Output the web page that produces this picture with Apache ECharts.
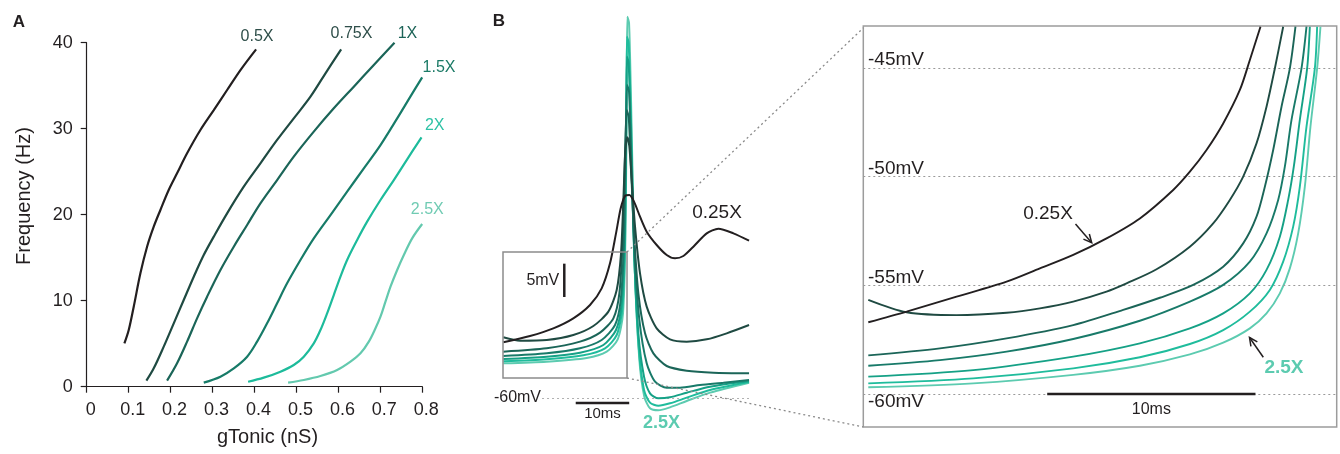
<!DOCTYPE html>
<html><head><meta charset="utf-8">
<script src="https://cdn.jsdelivr.net/npm/echarts@6/dist/echarts.min.js"></script>
<style>html,body{margin:0;padding:0;background:#fff}#c{width:1340px;height:454px}</style>
</head><body><div id="c"></div>
<script>
// ---------- Panel A data: gTonic (nS) vs Frequency (Hz) ----------
const xTickLabelsA = ['0','0.1','0.2','0.3','0.4','0.5','0.6','0.7','0.8'];
const yTickLabelsA = ['0','10','20','30','40'];
const namesA = ['0.5X','0.75X','1X','1.5X','2X','2.5X'];
const fi_05X = [[0.0898,5.04],[0.1002,6.59],[0.1121,9.30],[0.1280,13.18],[0.1439,16.28],[0.1598,18.61],[0.1757,20.55],[0.1955,22.87],[0.2154,24.81],[0.2393,27.14],[0.2710,29.85],[0.3029,32.17],[0.3347,34.50],[0.3665,36.82],[0.4038,39.23]];
const fi_075X = [[0.1423,0.70],[0.1598,2.14],[0.1836,4.66],[0.2075,7.37],[0.2313,10.08],[0.2552,12.79],[0.2790,15.31],[0.3029,17.45],[0.3347,20.16],[0.3744,23.26],[0.4141,25.97],[0.4539,28.69],[0.4936,31.20],[0.5334,33.72],[0.5692,36.44],[0.6065,39.23]];
const fi_1X = [[0.1916,0.70],[0.2154,2.72],[0.2393,5.24],[0.2631,7.95],[0.2870,10.47],[0.3188,13.57],[0.3506,16.28],[0.3824,18.80],[0.4141,21.32],[0.4539,24.03],[0.4936,26.75],[0.5413,29.66],[0.5890,32.37],[0.6367,34.89],[0.6844,37.41],[0.7337,40.00]];
const fi_15X = [[0.2790,0.47],[0.3188,1.17],[0.3506,2.13],[0.3824,3.49],[0.4062,5.24],[0.4300,7.37],[0.4539,9.70],[0.4777,12.02],[0.5095,14.73],[0.5413,17.25],[0.5811,19.96],[0.6208,22.68],[0.6606,25.39],[0.7003,28.10],[0.7401,31.20],[0.7719,33.76],[0.7997,35.97]];
const fi_2X = [[0.3847,0.58],[0.4221,1.05],[0.4618,1.75],[0.4936,2.52],[0.5175,3.49],[0.5413,5.04],[0.5572,6.59],[0.5731,8.53],[0.5890,10.66],[0.6049,12.79],[0.6208,14.73],[0.6447,17.06],[0.6685,19.19],[0.7003,21.71],[0.7321,24.03],[0.7639,26.44],[0.7981,29.00]];
const fi_25X = [[0.4801,0.47],[0.5175,0.78],[0.5572,1.24],[0.5970,1.94],[0.6288,2.91],[0.6526,3.88],[0.6725,5.24],[0.6884,6.79],[0.7003,8.14],[0.7122,9.89],[0.7242,11.63],[0.7401,13.57],[0.7560,15.31],[0.7758,17.25],[0.7997,18.92]];

// ---------- Panel B (left): full spike traces, time (ms) vs Vm (mV) ----------
const namesB = ['0.25X','0.5X','1X','1.5X','2X','2.25X','2.5X'];
const spike_1 = [[0.06,-51.65],[5.05,-50.70],[9.41,-49.55],[13.15,-48.05],[16.27,-46.05],[18.45,-43.55],[20.01,-39.80],[21.13,-35.30],[22.01,-31.55],[22.82,-29.70],[23.63,-29.55],[24.50,-30.55],[25.62,-32.80],[26.87,-35.05],[28.74,-37.05],[30.61,-38.55],[32.17,-39.05],[33.73,-38.70],[35.60,-37.30],[38.09,-35.30],[40.27,-34.60],[43.08,-35.30],[46.01,-36.40]];
const spike_2 = [[0.06,-50.90],[3.18,-51.40],[8.17,-51.30],[13.15,-50.55],[16.90,-49.20],[19.70,-47.05],[21.26,-43.80],[22.07,-38.30],[22.51,-30.30],[22.88,-22.80],[23.26,-20.90],[23.63,-22.30],[24.06,-27.30],[24.69,-34.30],[25.62,-41.30],[26.87,-46.30],[28.74,-49.55],[31.23,-51.20],[34.35,-51.55],[38.09,-51.20],[41.83,-50.30],[46.01,-49.05]];
const spike_3 = [[0.06,-53.05],[8.17,-52.55],[14.40,-51.55],[18.14,-50.20],[20.64,-48.05],[21.76,-44.30],[22.38,-36.30],[22.76,-25.30],[23.13,-16.80],[23.50,-17.80],[23.88,-24.30],[24.50,-35.30],[25.31,-44.30],[26.56,-50.30],[28.12,-53.30],[30.61,-55.20],[34.35,-55.90],[39.34,-56.20],[46.01,-56.30]];
const spike_4 = [[0.06,-53.70],[8.17,-53.30],[14.40,-52.55],[18.45,-51.30],[20.95,-49.05],[22.01,-45.30],[22.63,-36.30],[22.94,-22.80],[23.19,-13.05],[23.57,-14.05],[23.94,-22.80],[24.56,-37.80],[25.50,-48.30],[26.87,-54.80],[28.43,-57.55],[30.61,-58.45],[33.10,-58.45],[36.84,-58.05],[41.21,-57.70],[46.01,-57.30]];
const spike_5 = [[0.06,-54.15],[8.17,-53.80],[14.40,-53.20],[18.77,-52.05],[21.13,-49.80],[22.19,-45.80],[22.76,-36.30],[23.01,-20.30],[23.19,-8.80],[23.50,-9.80],[23.88,-19.30],[24.50,-37.80],[25.31,-50.30],[26.37,-56.80],[27.49,-59.30],[29.05,-60.05],[31.23,-59.90],[34.35,-59.20],[38.72,-58.30],[46.01,-57.45]];
const spike_6 = [[0.06,-54.50],[8.17,-54.20],[15.02,-53.60],[19.08,-52.55],[21.26,-50.55],[22.32,-46.55],[22.82,-36.30],[23.07,-17.80],[23.19,-5.80],[23.50,-6.80],[23.88,-16.80],[24.56,-38.80],[25.37,-52.30],[26.37,-58.80],[27.49,-60.70],[29.05,-61.15],[31.23,-60.80],[34.35,-59.95],[38.72,-58.80],[46.01,-57.60]];
const spike_7 = [[0.06,-54.80],[8.17,-54.55],[15.65,-54.00],[19.39,-53.05],[21.45,-51.20],[22.44,-47.30],[22.88,-36.30],[23.13,-15.30],[23.25,-2.80],[23.57,-3.80],[23.94,-15.30],[24.63,-40.30],[25.50,-54.30],[26.43,-59.80],[27.49,-61.55],[29.05,-61.85],[31.23,-61.40],[34.35,-60.45],[38.72,-59.20],[46.01,-57.70]];

// ---------- Panel B (right): magnified pre-spike depolarisation ----------
const ramp_1 = [[0.24,-56.70],[2.08,-56.21],[4.48,-55.52],[6.88,-54.83],[8.48,-54.22],[10.08,-53.60],[11.68,-52.84],[13.28,-51.92],[14.88,-50.61],[15.68,-49.77],[16.48,-48.77],[17.28,-47.55],[18.08,-46.01],[18.56,-44.63],[19.07,-43.10]];
const ramp_2 = [[0.24,-55.67],[2.08,-56.24],[4.48,-56.37],[6.88,-56.26],[8.48,-56.06],[10.08,-55.75],[11.68,-55.29],[12.64,-54.91],[14.08,-54.26],[15.68,-53.22],[16.80,-52.15],[17.60,-51.07],[18.24,-50.00],[18.88,-48.47],[19.36,-46.78],[19.76,-45.02],[20.16,-43.10]];
const ramp_3 = [[0.24,-58.22],[3.68,-57.90],[6.88,-57.44],[10.08,-56.83],[12.48,-56.13],[14.24,-55.57],[15.84,-54.98],[17.28,-54.14],[18.24,-53.07],[18.88,-51.84],[19.28,-50.46],[19.68,-48.77],[20.08,-46.78],[20.48,-45.02],[20.75,-43.10]];
const ramp_4 = [[0.24,-58.70],[3.68,-58.44],[6.88,-58.05],[10.08,-57.47],[13.28,-56.63],[15.68,-55.75],[17.28,-54.98],[18.56,-53.91],[19.36,-52.61],[19.92,-51.07],[20.24,-49.54],[20.56,-47.39],[21.04,-45.02],[21.28,-43.10]];
const ramp_5 = [[0.24,-59.20],[5.28,-58.90],[10.08,-58.28],[13.28,-57.67],[15.68,-56.98],[17.28,-56.29],[18.56,-55.37],[19.36,-54.29],[20.00,-52.76],[20.40,-51.07],[20.67,-49.54],[20.96,-47.39],[21.31,-45.02],[21.44,-43.10]];
const ramp_6 = [[0.24,-59.51],[5.28,-59.28],[10.08,-58.82],[13.28,-58.31],[15.68,-57.70],[17.28,-57.06],[18.56,-56.21],[19.52,-55.21],[20.16,-53.91],[20.64,-52.30],[20.96,-50.46],[21.28,-47.70],[21.68,-45.02],[21.79,-43.10]];
const ramp_7 = [[0.24,-59.69],[5.28,-59.51],[10.08,-59.12],[13.28,-58.70],[15.68,-58.18],[17.28,-57.64],[18.56,-56.98],[19.36,-56.29],[20.00,-55.37],[20.48,-54.22],[20.88,-52.61],[21.20,-50.46],[21.47,-47.70],[21.79,-45.02],[21.95,-43.10]];
const refLevelsR = [-45, -50, -55, -60];
const refLabelsR = ['-45mV', '-50mV', '-55mV', '-60mV'];

// ---------- styling ----------
const FONT = 'Liberation Sans, Arial, Helvetica, sans-serif';
const INK = '#231f20';
const colorsA = ['#231f20','#1f4a42','#1b6558','#177b68','#1dbb9b','#63c9ae'];
const labelColorsA = ['#2f4f4a','#2f4f4a','#1d6458','#1b7a66','#2dc2a5','#70cbb3'];
const colorsB = ['#231f20','#1f4a42','#1b6558','#187a69','#15a186','#1fbc9c','#5ccbb0'];

const dataA = [fi_05X, fi_075X, fi_1X, fi_15X, fi_2X, fi_25X];
const dataBL = [spike_1, spike_2, spike_3, spike_4, spike_5, spike_6, spike_7];
const dataBR = [ramp_1, ramp_2, ramp_3, ramp_4, ramp_5, ramp_6, ramp_7];

const series = [];
dataA.forEach((d, i) => series.push({
  name: namesA[i], type: 'line', xAxisIndex: 0, yAxisIndex: 0, data: d,
  showSymbol: false, smooth: 0.35, lineStyle: {color: colorsA[i], width: 2.2}, silent: true
}));
dataBL.forEach((d, i) => series.push({
  name: 'L' + namesB[i], type: 'line', xAxisIndex: 1, yAxisIndex: 1, data: d,
  showSymbol: false, smooth: 0.25, clip: false, lineStyle: {color: colorsB[i], width: 2}, silent: true,
  z: 10 - i
}));
dataBR.forEach((d, i) => series.push({
  name: 'R' + namesB[i], type: 'line', xAxisIndex: 2, yAxisIndex: 2, data: d,
  showSymbol: false, smooth: 0.3, lineStyle: {color: colorsB[i], width: 1.9}, silent: true,
  z: 10 - i
}));
// reference dotted lines (right panel)
series[dataA.length + dataBL.length].markLine = {
  silent: true, symbol: 'none', animation: false,
  lineStyle: {color: '#9a9a9a', type: [2, 3], width: 1},
  label: {show: false},
  data: refLevelsR.map(v => ({yAxis: v}))
};
// -60mV dotted line (left panel)
series[dataA.length].markLine = {
  silent: true, symbol: 'none', animation: false,
  lineStyle: {color: '#b0b0b0', type: [2, 3], width: 1},
  label: {show: false},
  data: [[{coord: [7.3, -60]}, {coord: [46, -60]}]]
};

const option = {
  animation: false,
  backgroundColor: '#fff',
  textStyle: {fontFamily: FONT},
  grid: [
    {left: 86.7, top: 42.7, width: 335.6, height: 344},
    {left: 503, top: 11.33, width: 246, height: 400},
    {left: 863.3, top: 26, width: 473.4, height: 401, show: true, borderColor: '#9c9c9c', borderWidth: 1.5, backgroundColor: 'transparent'}
  ],
  xAxis: [
    {gridIndex: 0, type: 'value', min: 0, max: 0.8, interval: 0.1,
     axisLine: {lineStyle: {color: INK, width: 1.2}}, axisTick: {length: 6, lineStyle: {color: INK, width: 1.2}},
     splitLine: {show: false},
     axisLabel: {color: INK, fontSize: 18, fontFamily: FONT, margin: 14, padding: [0, 0, 0, 8],
       formatter: (v) => xTickLabelsA[Math.round(v * 10)]}},
    {gridIndex: 1, type: 'value', min: 0, max: 46, show: false},
    {gridIndex: 2, type: 'value', min: 0, max: 22.73, show: false}
  ],
  yAxis: [
    {gridIndex: 0, type: 'value', min: 0, max: 40, interval: 10,
     axisLine: {show: true, lineStyle: {color: INK, width: 1.2}}, axisTick: {show: true, length: 6, lineStyle: {color: INK, width: 1.2}},
     splitLine: {show: false},
     axisLabel: {color: INK, fontSize: 18, fontFamily: FONT, margin: 14,
       formatter: (v) => yTickLabelsA[Math.round(v / 10)]}},
    {gridIndex: 1, type: 'value', min: -62, max: -2, show: false},
    {gridIndex: 2, type: 'value', min: -61.518, max: -43.067, show: false}
  ],
  series: series
};

const chart = echarts.init(document.getElementById('c'), null, {renderer: 'canvas'});
chart.setOption(option);

const P = (g, x, y) => chart.convertToPixel({gridIndex: g}, [x, y]);
const txt = (x, y, text, o) => Object.assign({type: 'text', x: x, y: y, silent: true, z: 100,
  style: Object.assign({text: text, fontFamily: FONT, fontSize: 16, fill: INK, align: 'center', verticalAlign: 'middle'}, (o && o.style) || {})},
  o && o.rotation !== undefined ? {rotation: o.rotation} : {});
function arrow(x1, y1, x2, y2, color) {
  const a = Math.atan2(y2 - y1, x2 - x1), L = 9, w = 0.45;
  return [
    {type: 'line', silent: true, z: 100, shape: {x1: x1, y1: y1, x2: x2, y2: y2}, style: {stroke: color, lineWidth: 1.5}},
    {type: 'polyline', silent: true, z: 100, shape: {points: [[x2 - L * Math.cos(a - w), y2 - L * Math.sin(a - w)], [x2, y2], [x2 - L * Math.cos(a + w), y2 - L * Math.sin(a + w)]]},
     style: {stroke: color, fill: null, lineWidth: 1.5}}
  ];
}

const g = [];
// panel letters
g.push(txt(19, 22, 'A', {style: {fontWeight: 'bold', fontSize: 17}}));
g.push(txt(499, 21, 'B', {style: {fontWeight: 'bold', fontSize: 17}}));
// axis names, panel A
g.push(txt(24, 196, 'Frequency (Hz)', {rotation: Math.PI / 2, style: {fontSize: 20}}));
g.push(txt(267.5, 437, 'gTonic (nS)', {style: {fontSize: 20}}));
// curve labels, panel A
const labelPosA = [[257, 37], [351.5, 34], [407.5, 34], [439, 68], [434.7, 126], [427.3, 209.5]];
namesA.forEach((n, i) => g.push(txt(labelPosA[i][0], labelPosA[i][1], n, {style: {fontSize: 16, fill: labelColorsA[i]}})));

// left panel: inset box and connecting lines
const bTL = P(1, 0, -38.1), bBR = P(1, 23.19, -57.0);
g.push({type: 'rect', silent: true, z: 50, shape: {x: bTL[0], y: bTL[1], width: bBR[0] - bTL[0], height: bBR[1] - bTL[1]},
  style: {stroke: '#8c8c8c', fill: null, lineWidth: 1.5}});
const rTL = P(2, 0, -43.067), rBL = P(2, 0, -61.518);
g.push({type: 'line', silent: true, z: 40, shape: {x1: bBR[0], y1: bTL[1], x2: rTL[0], y2: rTL[1] + 2}, style: {stroke: '#8a8a8a', lineWidth: 1.3, lineDash: [2, 3]}});
g.push({type: 'line', silent: true, z: 40, shape: {x1: bBR[0], y1: bBR[1], x2: rBL[0], y2: rBL[1]}, style: {stroke: '#8a8a8a', lineWidth: 1.3, lineDash: [2, 3]}});
// left panel: -60mV label
const l60 = P(1, 7.3, -60);
g.push(txt(l60[0] - 1, l60[1], '-60mV', {style: {align: 'right', fontSize: 16}}));
// 5 mV scale bar
const s5a = P(1, 11.46, -44.85), s5b = P(1, 11.46, -39.85);
g.push({type: 'line', silent: true, z: 60, shape: {x1: s5a[0], y1: s5a[1], x2: s5b[0], y2: s5b[1]}, style: {stroke: INK, lineWidth: 2.5}});
g.push(txt(s5a[0] - 5, (s5a[1] + s5b[1]) / 2, '5mV', {style: {align: 'right', fontSize: 16}}));
// 10 ms scale bar (left)
const t10a = P(1, 13.6, -60.75), t10b = P(1, 23.6, -60.75);
g.push({type: 'line', silent: true, z: 60, shape: {x1: t10a[0], y1: t10a[1], x2: t10b[0], y2: t10b[1]}, style: {stroke: INK, lineWidth: 2.5}});
g.push(txt((t10a[0] + t10b[0]) / 2, t10a[1] + 11, '10ms', {style: {fontSize: 15}}));
// left labels
g.push(txt(717, 213, '0.25X', {style: {fontSize: 19}}));
g.push(txt(661.5, 422.7, '2.5X', {style: {fontSize: 18, fontWeight: 'bold', fill: '#5ccbb0'}}));

// right panel: level labels
refLevelsR.forEach((v, i) => {
  const p = P(2, 0, v);
  g.push(txt(868, p[1] + (v === -60 ? 8 : -8), refLabelsR[i], {style: {align: 'left', fontSize: 19}}));
});
// 10 ms scale bar (right)
const r10a = P(2, 8.83, -60), r10b = P(2, 18.83, -60);
g.push({type: 'line', silent: true, z: 60, shape: {x1: r10a[0], y1: r10a[1], x2: r10b[0], y2: r10b[1]}, style: {stroke: INK, lineWidth: 2.5}});
g.push(txt((r10a[0] + r10b[0]) / 2, r10a[1] + 16, '10ms', {style: {fontSize: 16}}));
// right labels + arrows
g.push(txt(1048, 213.3, '0.25X', {style: {fontSize: 19}}));
arrow(1075.5, 224, 1091.7, 242.7, INK).forEach(e => g.push(e));
g.push(txt(1284, 367.3, '2.5X', {style: {fontSize: 19, fontWeight: 'bold', fill: '#5ccbb0'}}));
arrow(1263.3, 357.3, 1249.5, 337.5, INK).forEach(e => g.push(e));

chart.setOption({graphic: g});
</script>
</body></html>
